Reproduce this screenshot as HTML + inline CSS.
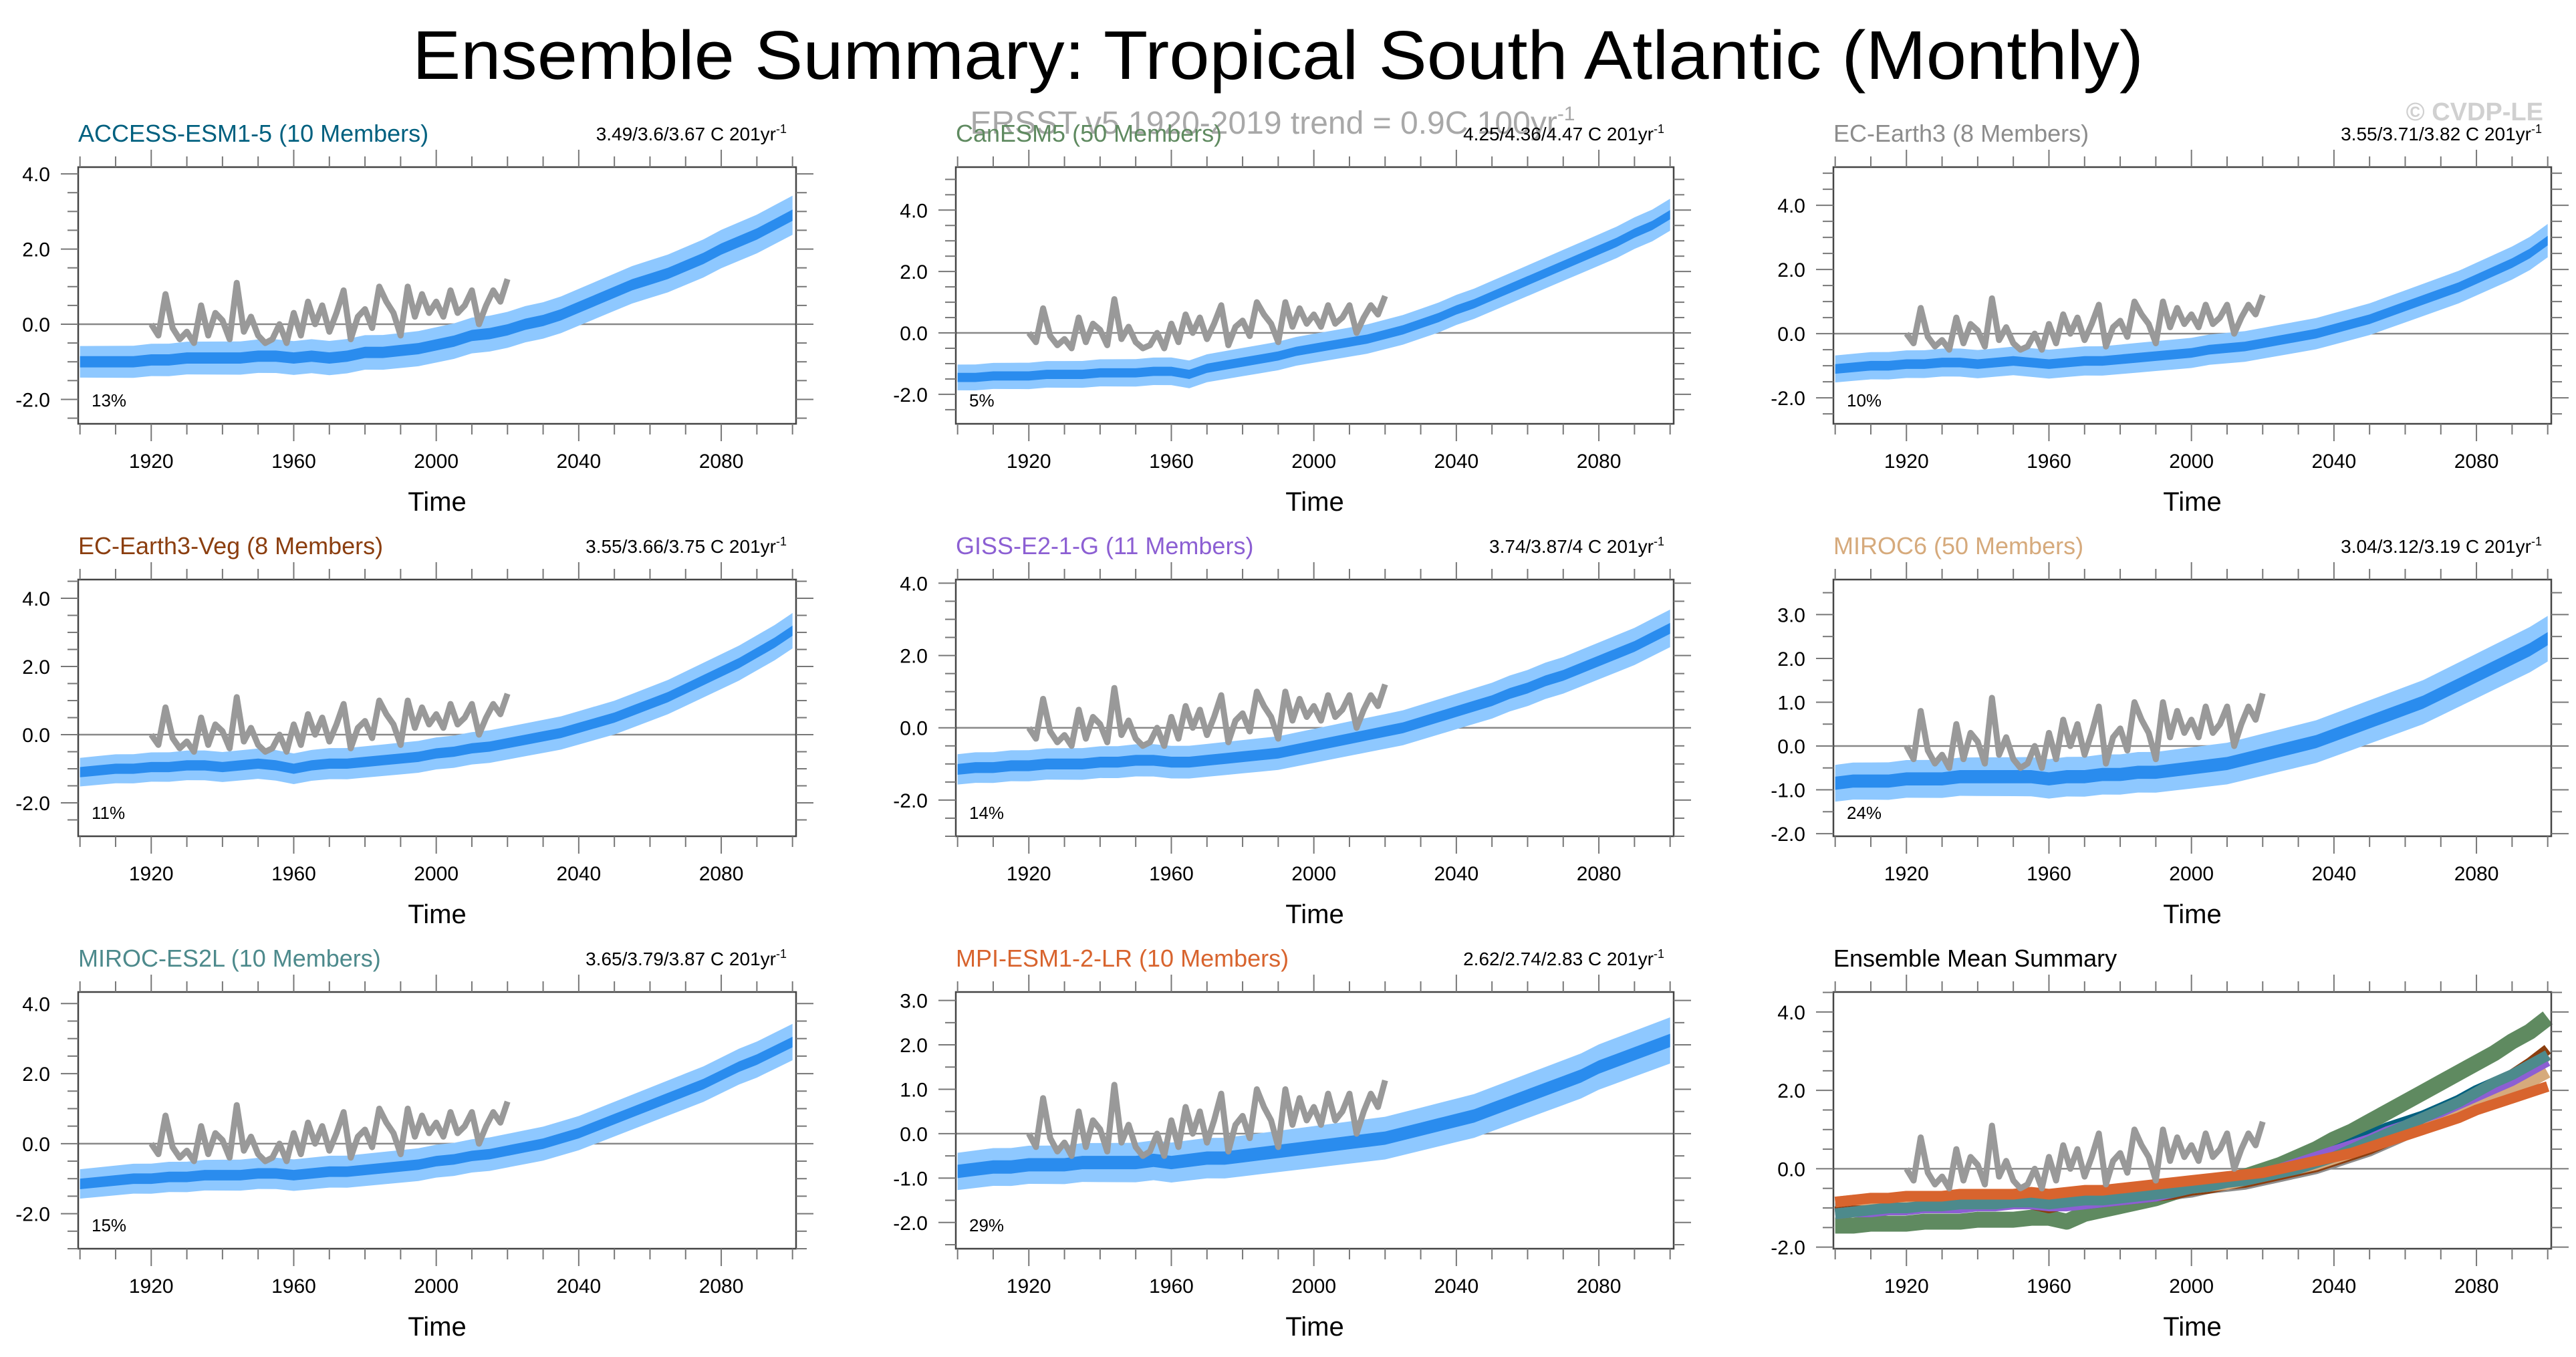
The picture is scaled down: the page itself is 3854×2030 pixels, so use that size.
<!DOCTYPE html>
<html><head><meta charset="utf-8"><style>
html,body{margin:0;padding:0;background:#fff;}
svg{display:block;font-family:"Liberation Sans",sans-serif;}
</style></head><body>
<svg id="fig" width="3854" height="2030" viewBox="0 0 3854 2030" xmlns="http://www.w3.org/2000/svg">
<text x="1912" y="118" font-size="103" text-anchor="middle" fill="#000" textLength="2590" lengthAdjust="spacingAndGlyphs">Ensemble Summary: Tropical South Atlantic (Monthly)</text>
<text x="1904" y="200" font-size="48" text-anchor="middle" fill="#999" fill-opacity="0.85">ERSST v5 1920-2019 trend = 0.9C 100yr<tspan dy="-20" font-size="30">-1</tspan></text>
<text x="3805" y="180" font-size="38" font-weight="bold" text-anchor="end" fill="#d0d0d0">© CVDP-LE</text>
</svg>
<script>
// ---- data (5-year sampled ensemble means, 1900..2100) ----
const meanYears0 = 1900, meanStep = 5;
const accessMean = [-1.0,-1.0,-1.0,-1.0,-0.95,-0.95,-0.9,-0.9,-0.9,-0.9,-0.85,-0.85,-0.9,-0.85,-0.9,-0.85,-0.75,-0.75,-0.7,-0.65,-0.55,-0.45,-0.3,-0.25,-0.15,0.0,0.1,0.25,0.45,0.65,0.85,1.05,1.2,1.35,1.55,1.75,2.0,2.2,2.4,2.65,2.9];
const canesmMean = [-1.45,-1.45,-1.4,-1.4,-1.4,-1.35,-1.35,-1.35,-1.3,-1.3,-1.3,-1.25,-1.25,-1.35,-1.15,-1.05,-0.95,-0.85,-0.75,-0.6,-0.5,-0.4,-0.3,-0.2,-0.05,0.1,0.3,0.5,0.75,0.95,1.2,1.45,1.7,1.95,2.2,2.45,2.7,2.95,3.25,3.5,3.85];
const ecearthMean = [-1.1,-1.05,-1.0,-1.0,-0.95,-0.95,-0.9,-0.9,-0.95,-0.9,-0.85,-0.9,-0.95,-0.9,-0.85,-0.85,-0.8,-0.75,-0.7,-0.65,-0.6,-0.5,-0.45,-0.4,-0.3,-0.2,-0.1,0.0,0.15,0.3,0.45,0.65,0.85,1.05,1.25,1.45,1.7,1.95,2.2,2.5,2.9];
const ecvegMean = [-1.1,-1.05,-1.0,-1.0,-0.95,-0.95,-0.9,-0.9,-0.95,-0.9,-0.85,-0.9,-1.0,-0.9,-0.85,-0.85,-0.8,-0.75,-0.7,-0.65,-0.55,-0.5,-0.4,-0.35,-0.25,-0.15,-0.05,0.05,0.2,0.35,0.5,0.7,0.9,1.1,1.35,1.6,1.85,2.1,2.4,2.7,3.05];
const gissMean = [-1.15,-1.1,-1.1,-1.05,-1.05,-1.0,-1.0,-1.0,-0.95,-0.95,-0.9,-0.9,-0.95,-0.95,-0.9,-0.85,-0.8,-0.75,-0.7,-0.6,-0.5,-0.4,-0.3,-0.2,-0.1,0.0,0.15,0.3,0.45,0.6,0.75,0.95,1.1,1.3,1.45,1.65,1.85,2.05,2.25,2.5,2.75];
const miroc6Mean = [-0.85,-0.8,-0.8,-0.8,-0.75,-0.75,-0.75,-0.7,-0.7,-0.7,-0.7,-0.7,-0.75,-0.7,-0.7,-0.65,-0.65,-0.6,-0.6,-0.55,-0.5,-0.45,-0.4,-0.3,-0.2,-0.1,0.0,0.1,0.25,0.4,0.55,0.7,0.85,1.0,1.2,1.4,1.6,1.8,2.0,2.2,2.45];
const es2lMean = [-1.15,-1.1,-1.05,-1.0,-1.0,-0.95,-0.95,-0.9,-0.9,-0.9,-0.85,-0.85,-0.9,-0.85,-0.8,-0.8,-0.75,-0.7,-0.65,-0.6,-0.5,-0.45,-0.35,-0.3,-0.2,-0.1,0.0,0.15,0.3,0.5,0.7,0.9,1.1,1.3,1.5,1.7,1.95,2.2,2.4,2.65,2.9];
const mpiMean = [-0.85,-0.8,-0.75,-0.75,-0.7,-0.7,-0.7,-0.65,-0.65,-0.65,-0.65,-0.6,-0.65,-0.6,-0.55,-0.55,-0.5,-0.45,-0.4,-0.35,-0.3,-0.25,-0.2,-0.15,-0.1,0.0,0.1,0.2,0.3,0.4,0.55,0.7,0.85,1.0,1.15,1.3,1.5,1.65,1.8,1.95,2.1];
// observations (ERSST v5), 2-year sampled 1920..2020
const obsYear0 = 1920, obsStep = 2;
const obsValues = [0.0,-0.3,0.8,-0.1,-0.4,-0.2,-0.5,0.5,-0.3,0.3,0.1,-0.4,1.1,-0.2,0.2,-0.3,-0.5,-0.4,0.0,-0.5,0.3,-0.3,0.6,0.0,0.5,-0.2,0.3,0.9,-0.4,0.2,0.4,-0.1,1.0,0.6,0.3,-0.3,1.0,0.2,0.8,0.3,0.6,0.2,0.9,0.3,0.5,0.9,0.0,0.5,0.9,0.6,1.2];
const modelNames = ["ACCESS-ESM1-5 (10 Members)","CanESM5 (50 Members)","EC-Earth3 (8 Members)","EC-Earth3-Veg (8 Members)","GISS-E2-1-G (11 Members)","MIROC6 (50 Members)","MIROC-ES2L (10 Members)","MPI-ESM1-2-LR (10 Members)"];
const trendLabels = ["3.49/3.6/3.67","4.25/4.36/4.47","3.55/3.71/3.82","3.55/3.66/3.75","3.74/3.87/4","3.04/3.12/3.19","3.65/3.79/3.87","2.62/2.74/2.83"];
const percentLabels = ["13%","5%","10%","11%","14%","24%","15%","29%"];
const xTickLabels = [1920,1960,2000,2040,2080];

const allMeans=[accessMean,canesmMean,ecearthMean,ecvegMean,gissMean,miroc6Mean,es2lMean,mpiMean];
const colors=["#00607f","#5f8a60","#8c8c8c","#8b3e0f","#8c5fd3","#d6aa7c","#4d8a8c","#d8642e"];
const yRanges=[[-2.65,4.18],[-2.96,5.4],[-2.81,5.19],[-2.98,4.55],[-3.0,4.1],[-2.06,3.8],[-3.0,4.33],[-2.59,3.19],[-2.04,4.51]];
const yLabelStep=[2,2,2,2,2,1,2,1,2];
const NS="http://www.w3.org/2000/svg";
const svg=document.getElementById('fig');
function mk(tag,attrs,parent){const e=document.createElementNS(NS,tag);for(const k in attrs)e.setAttribute(k,attrs[k]);(parent||svg).appendChild(e);return e;}
const colL=[117,1430,2743], rowT=[250,867,1484], W=1074, H=384;
for(let p=0;p<9;p++){
  const bx=colL[p%3], by=rowT[Math.floor(p/3)];
  const [y0,y1]=yRanges[p];
  const X=yr=>bx+(yr-1899.5)/(201.5)*W;
  const Y=v=>by+(y1-v)/(y1-y0)*H;
  const g=mk('g',{});
  
  
  const zl=mk('line',{x1:bx,x2:bx+W,y1:Y(0),y2:Y(0),stroke:'#888','stroke-width':2.5},g);
  
  
  const obsPts=obsValues.map((v,i)=>X(obsYear0+i*obsStep)+','+Y(v)).join(' ');
  if(p<8){
    const m=allMeans[p];
    const up=m.map((v,i)=>X(meanYears0+i*meanStep)+','+Y(v+0.42+0.1*i/40));
    const dn=m.map((v,i)=>X(meanYears0+i*meanStep)+','+Y(v-0.42-0.1*i/40)).reverse();
    const band=mk('polygon',{points:up.concat(dn).join(' '),fill:'#8ec8ff'},g);
    
    
    const up2=m.map((v,i)=>X(meanYears0+i*meanStep)+','+Y(v+0.15));
    const dn2=m.map((v,i)=>X(meanYears0+i*meanStep)+','+Y(v-0.15)).reverse();
    const band2=mk('polygon',{points:up2.concat(dn2).join(' '),fill:'#2a8cee'},g);
    
    
    const ol=mk('polyline',{points:obsPts,fill:'none',stroke:'#999','stroke-width':9,'stroke-linejoin':'round'},g);
    
    
    const t=mk('text',{x:bx,y:by-38,'font-size':36,fill:colors[p]},g); t.textContent=modelNames[p];
    
    
    const tr=mk('text',{x:bx+W-14,y:by-40,'font-size':28,'text-anchor':'end',fill:'#000'},g);
    tr.innerHTML=trendLabels[p]+' C 201yr<tspan dy="-11" font-size="18">-1</tspan>';
    
    
    const pc=mk('text',{x:bx+20,y:by+H-26,'font-size':26,fill:'#000'},g); pc.textContent=percentLabels[p];
    
    
  } else {
    const order=[1,0,2,3,5,4,6,7];
    for(const k of order){
      const m=allMeans[k];
      const l=mk('polyline',{points:m.map((v,i)=>X(meanYears0+i*meanStep)+','+Y(v)).join(' '),fill:'none',stroke:colors[k],'stroke-width':k==1?24:16,'stroke-linejoin':'round'},g);
      
      
    }
    const ol=mk('polyline',{points:obsPts,fill:'none',stroke:'#999','stroke-width':9,'stroke-linejoin':'round'},g);
    
    
    const t=mk('text',{x:bx,y:by-38,'font-size':36,fill:'#000'},g); t.textContent='Ensemble Mean Summary';
    
    
  }
  const box=mk('rect',{x:bx,y:by,width:W,height:H,fill:'none',stroke:'#444','stroke-width':2.5},g);
  
  
  for(let yr=1900;yr<=2100;yr+=10){
    const major=(yr-1920)%40===0; const len=major?26:16; const x=X(yr);
    mk('line',{x1:x,x2:x,y1:by,y2:by-len,stroke:'#777','stroke-width':2},g);
    mk('line',{x1:x,x2:x,y1:by+H,y2:by+H+len,stroke:'#777','stroke-width':2},g);
  }
  for(const yr of xTickLabels){
    const tl=mk('text',{x:X(yr),y:by+H+66,'font-size':30,'text-anchor':'middle',fill:'#000'},g); tl.textContent=yr;
    
    
  }
  const xt=mk('text',{x:bx+W/2,y:by+H+130,'font-size':40,'text-anchor':'middle',fill:'#000'},g); xt.textContent='Time';
  
  
  const step=yLabelStep[p];
  for(let v=Math.ceil(y0*2)/2; v<=y1+1e-9; v+=0.5){
    const y=Y(v); const major=Math.abs(v/step-Math.round(v/step))<1e-6; const len=major?26:16;
    mk('line',{x1:bx,x2:bx-len,y1:y,y2:y,stroke:'#777','stroke-width':2},g);
    mk('line',{x1:bx+W,x2:bx+W+len,y1:y,y2:y,stroke:'#777','stroke-width':2},g);
    if(major){
      const yl=mk('text',{x:bx-42,y:y+11,'font-size':30,'text-anchor':'end',fill:'#000'},g); yl.textContent=v.toFixed(1);
      
      
    }
  }
}
</script>
</body></html>
